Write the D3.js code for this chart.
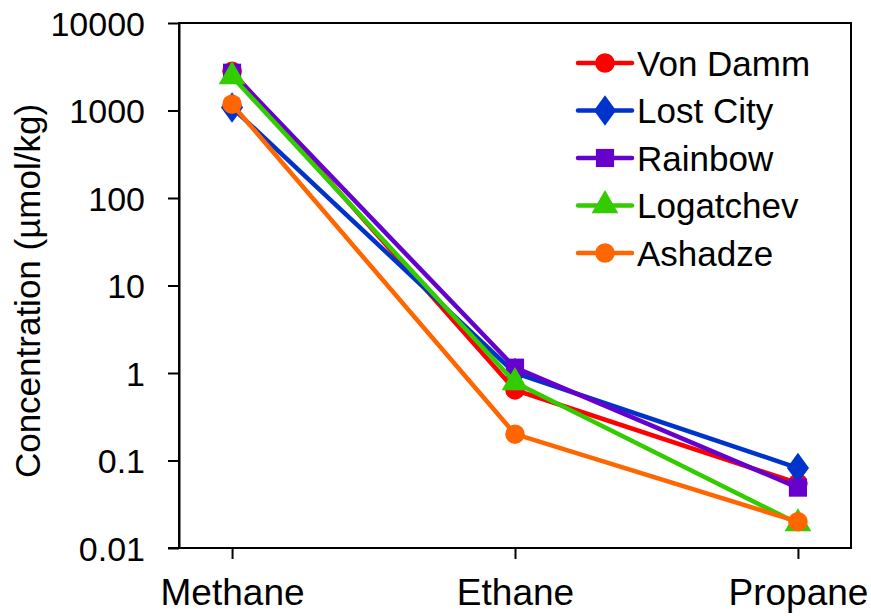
<!DOCTYPE html>
<html>
<head>
<meta charset="utf-8">
<script src="https://cdn.jsdelivr.net/npm/d3@7"></script>
<style>
  body { margin: 0; background: #fff; }
  text { font-family: Arial, "Liberation Sans", sans-serif; fill: #000; }
</style>
</head>
<body>
<div id="chart"></div>
<script>
const categories = ["Methane", "Ethane", "Propane"];
const seriesNames = ["Von Damm", "Lost City", "Rainbow", "Logatchev", "Ashadze"];
const vonDamm = [2800, 0.64, 0.055];
const lostCity = [1080, 1.0, 0.082];
const rainbow = [2700, 1.15, 0.049];
const logatchev = [2450, 0.78, 0.019];
const ashadze = [1180, 0.2, 0.02];
const yTicks = [0.01, 0.1, 1, 10, 100, 1000, 10000];

const colors = ["#ff0000", "#0033cc", "#6600cc", "#33cc00", "#ff6600"];
const symbols = [d3.symbolCircle, d3.symbolDiamond, d3.symbolSquare, d3.symbolTriangle, d3.symbolCircle];
const symbolSizes = [300, 270, 330, 310, 300];

const series = [vonDamm, lostCity, rainbow, logatchev, ashadze].map((values, i) => ({
  name: seriesNames[i],
  color: colors[i],
  symbol: symbols[i],
  size: symbolSizes[i],
  values: values.map((v, j) => ({ cat: categories[j], v })),
}));

const W = 871, H = 616;
const margin = { top: 23, right: 20, bottom: 68, left: 179 };
const width = W - margin.left - margin.right;
const height = H - margin.top - margin.bottom;
const font = "Arial, 'Liberation Sans', sans-serif";

const svg = d3.select("#chart").append("svg").attr("width", W).attr("height", H);
const g = svg.append("g").attr("transform", `translate(${margin.left},${margin.top})`);

const x = d3.scalePoint().domain(categories).range([0, width]).padding(0.1875);
const y = d3.scaleLog().domain([0.01, 10000]).range([height, 0]);

// frame
g.append("rect")
  .attr("width", width).attr("height", height)
  .style("fill", "none").style("stroke", "#000").style("stroke-width", 2);

// y axis
const yAxis = d3.axisLeft(y).tickValues(yTicks).tickSize(11).tickSizeOuter(0)
  .tickFormat((d) => d3.format("~g")(d));
g.append("g").attr("class", "y axis").call(yAxis)
  .call((a) => a.select(".domain").style("stroke-width", 2))
  .call((a) => a.selectAll(".tick line").style("stroke-width", 2))
  .call((a) => a.selectAll(".tick text").attr("x", -34).attr("dy", "0.36em")
    .style("font-size", "34px").style("font-family", font));

// x axis
const xAxis = d3.axisBottom(x).tickSize(11).tickSizeOuter(0);
g.append("g").attr("class", "x axis").attr("transform", `translate(0,${height})`).call(xAxis)
  .call((a) => a.select(".domain").attr("d", `M-11,0H${width}`).style("stroke-width", 2))
  .call((a) => a.selectAll(".tick line").style("stroke-width", 2))
  .call((a) => a.selectAll(".tick text").attr("y", 57).attr("dy", "0")
    .style("font-size", "37px").style("font-family", font));

// y axis label
g.append("text")
  .attr("transform", "rotate(-90)")
  .attr("x", -268)
  .attr("y", -139)
  .style("text-anchor", "middle")
  .style("font-size", "35px")
  .text("Concentration (µmol/kg)");

const line = d3.line().x((d) => x(d.cat)).y((d) => y(d.v));

// series: line + markers, each drawn in order
series.forEach((s) => {
  const sg = g.append("g").attr("class", "series");
  sg.append("path")
    .datum(s.values)
    .style("fill", "none")
    .style("stroke", s.color)
    .style("stroke-width", 4.5)
    .attr("d", line);
  sg.selectAll(".pt")
    .data(s.values)
    .join("path")
    .attr("class", "pt")
    .attr("transform", (d) => `translate(${x(d.cat)},${y(d.v)})${s.symbol === d3.symbolDiamond ? " scale(1.25,1)" : ""}`)
    .attr("d", d3.symbol().type(s.symbol).size(s.size))
    .style("fill", s.color);
});

// legend
const legend = g.selectAll(".legend")
  .data(series)
  .join("g")
  .attr("class", "legend")
  .attr("transform", (d, i) => `translate(${578 - margin.left},${63 - margin.top + i * 47.5})`);

legend.append("line")
  .attr("x1", 0).attr("x2", 54)
  .style("stroke", (d) => d.color)
  .style("stroke-width", 4.5)
  .style("stroke-linecap", "round");

legend.append("path")
  .attr("transform", (d) => `translate(27,0)${d.symbol === d3.symbolDiamond ? " scale(1.25,1)" : ""}`)
  .attr("d", (d) => d3.symbol().type(d.symbol).size(d.size)())
  .style("fill", (d) => d.color);

legend.append("text")
  .attr("x", 59)
  .attr("dy", "0.36em")
  .style("font-size", "35px")
  .text((d) => d.name);
</script>
</body>
</html>
